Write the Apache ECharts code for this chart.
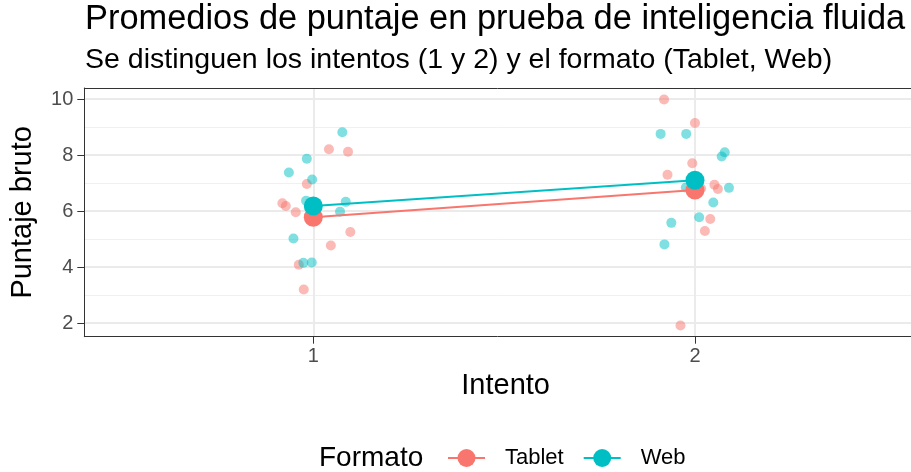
<!DOCTYPE html>
<html>
<head>
<meta charset="utf-8">
<script src="https://cdn.jsdelivr.net/npm/echarts@6/dist/echarts.min.js"></script>
<style>
  body { margin: 0; background: #fff; }
  #chart { width: 911px; height: 472px; }
</style>
</head>
<body>
<div id="chart"></div>
<script>
// intentos (eje x) y marcas de los ejes
const intentos = [1, 2]
const yTicks = [2, 4, 6, 8, 10]
const yMinorTicks = [3, 5, 7, 9]

// puntajes individuales con jitter: [posicion x, puntaje]
const tabletPoints = [
    [1.041, 8.21], [1.091, 8.12], [0.983, 6.97], [0.919, 6.28], [0.928, 6.18],
    [0.954, 5.96], [1.097, 5.25], [1.046, 4.77], [0.962, 4.08], [0.975, 3.20],
    [1.919, 9.99], [2.000, 9.15], [1.993, 7.71], [1.928, 7.30], [2.051, 6.94],
    [2.060, 6.79], [2.016, 6.81], [2.040, 5.72], [2.026, 5.29], [1.962, 1.91]
]
const webPoints = [
    [1.076, 8.82], [0.983, 7.87], [0.936, 7.38], [0.997, 7.13], [0.981, 6.37],
    [1.085, 6.33], [1.070, 5.98], [0.948, 5.02], [0.974, 4.15], [0.996, 4.16],
    [1.910, 8.76], [1.977, 8.76], [2.078, 8.10], [2.070, 7.95], [1.976, 6.84],
    [2.089, 6.83], [2.048, 6.31], [2.011, 5.78], [1.938, 5.58], [1.920, 4.81]
]

// promedios por intento
const tabletMeans = [5.78, 6.75]
const webMeans = [6.18, 7.10]

const colorTablet = '#F8766D'
const colorWeb = '#00BFC4'
const font = 'Liberation Sans, Arial, sans-serif'

var chartDom = document.getElementById('chart');
var myChart = echarts.init(chartDom, null, { renderer: 'canvas' });
var option;

function meanData(means) {
    return intentos.map((x, i) => [x, means[i]])
}

// el panel queda cortado a la derecha (como en la imagen original)
const xMin = 0.4
const xMax = 2.566

option = {
    animation: false,
    title: [
        {
            text: 'Promedios de puntaje en prueba de inteligencia fluida',
            left: 85,
            top: 3,
            padding: 0,
            textStyle: { fontFamily: font, fontSize: 34.4, fontWeight: 'normal', color: '#000' }
        },
        {
            text: 'Se distinguen los intentos (1 y 2) y el formato (Tablet, Web)',
            left: 85,
            top: 46,
            padding: 0,
            textStyle: { fontFamily: font, fontSize: 28.5, fontWeight: 'normal', color: '#000' }
        }
    ],
    graphic: [
        {
            type: 'text',
            left: 319,
            top: 444,
            style: { text: 'Formato', font: '28px ' + font, fill: '#000' }
        }
    ],
    legend: {
        data: ['Tablet', 'Web'],
        left: 447,
        top: 447,
        padding: 0,
        itemWidth: 37,
        itemHeight: 22.5,
        itemGap: 19,
        textStyle: { fontFamily: font, fontSize: 22, color: '#000', padding: [0, 0, 0, 15] }
    },
    grid: {
        left: 84.3,
        right: 0,
        top: 88,
        bottom: 135.3
    },
    xAxis: [
        {
            type: 'value',
            min: xMin,
            max: xMax,
            name: 'Intento',
            nameLocation: 'middle',
            nameGap: 32,
            nameTextStyle: { fontFamily: font, fontSize: 29, color: '#000', padding: [0, 0, 0, 16] },
            axisLine: { show: true, lineStyle: { color: '#333333', width: 1 } },
            axisTick: { show: true, length: 7, customValues: intentos, lineStyle: { color: '#333333', width: 1 } },
            axisLabel: { customValues: intentos, margin: 10, fontFamily: font, fontSize: 20, color: '#4D4D4D' },
            splitLine: { show: true, lineStyle: { color: '#EBEBEB', width: 2 } }
        },
        {
            // borde superior del panel
            type: 'value',
            position: 'top',
            min: xMin,
            max: xMax,
            axisLine: { show: true, onZero: false, lineStyle: { color: '#333333', width: 1 } },
            axisTick: { show: false },
            axisLabel: { show: false },
            splitLine: { show: false }
        }
    ],
    yAxis: [
        {
            type: 'value',
            min: 1.51,
            max: 10.4,
            name: 'Puntaje bruto',
            nameLocation: 'middle',
            nameGap: 47,
            nameTextStyle: { fontFamily: font, fontSize: 29, color: '#000' },
            axisLine: { show: true, onZero: false, lineStyle: { color: '#333333', width: 1 } },
            axisTick: { show: true, length: 7, customValues: yTicks, lineStyle: { color: '#333333', width: 1 } },
            axisLabel: { customValues: yTicks, margin: 11, fontFamily: font, fontSize: 20, color: '#4D4D4D' },
            splitLine: { show: true, lineStyle: { color: '#EBEBEB', width: 2 } }
        },
        {
            // lineas menores de la grilla
            type: 'value',
            position: 'left',
            min: 1.51,
            max: 10.4,
            axisLine: { show: false },
            axisTick: { show: false, customValues: yMinorTicks },
            axisLabel: { show: false, customValues: yMinorTicks },
            splitLine: { show: true, lineStyle: { color: '#F0F0F0', width: 1 } }
        }
    ],
    series: [
        {
            name: 'Tablet',
            type: 'line',
            data: meanData(tabletMeans),
            symbol: 'circle',
            symbolSize: 19,
            z: 4,
            itemStyle: { color: colorTablet },
            lineStyle: { color: colorTablet, width: 2 }
        },
        {
            name: 'Web',
            type: 'line',
            data: meanData(webMeans),
            symbol: 'circle',
            symbolSize: 19,
            z: 5,
            itemStyle: { color: colorWeb },
            lineStyle: { color: colorWeb, width: 2 }
        },
        {
            name: 'Tablet',
            type: 'scatter',
            data: tabletPoints,
            symbolSize: 10,
            z: 2,
            itemStyle: { color: colorTablet, opacity: 0.5 }
        },
        {
            name: 'Web',
            type: 'scatter',
            data: webPoints,
            symbolSize: 10,
            z: 3,
            itemStyle: { color: colorWeb, opacity: 0.5 }
        }
    ]
};

option && myChart.setOption(option);
</script>
</body>
</html>
